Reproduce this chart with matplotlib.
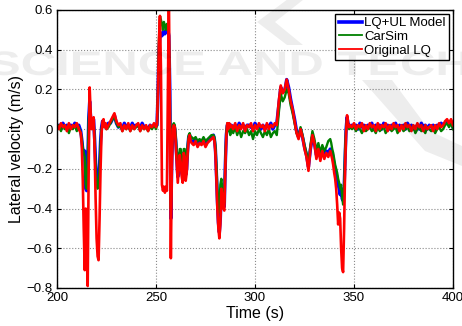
import numpy as np
import matplotlib
matplotlib.use("Agg")
import matplotlib.pyplot as plt
from matplotlib.textpath import TextPath
from matplotlib.patches import PathPatch, Polygon
from matplotlib.font_manager import FontProperties
from matplotlib.transforms import Affine2D

plt.rcParams['font.family'] = ['Liberation Sans', 'DejaVu Sans']

# time axis (s): finer steps around the manoeuvres
t = np.concatenate([
    np.arange(200, 212.5, 1),      # 200..212
    np.arange(212.5, 225.25, 0.5), # 212.5..225
    np.arange(226, 250.5, 1),      # 226..250
    np.arange(250.5, 268.25, 0.5), # 250.5..268
    np.arange(269, 279.5, 1),      # 269..279
    np.arange(279.5, 288.25, 0.5), # 279.5..288
    np.arange(289, 338.5, 1),      # 289..338
    np.arange(338.5, 348.25, 0.5), # 338.5..348
    np.arange(349, 400.5, 1),      # 349..400
])

# lateral velocity (m/s)
ul_model = [
    .01, .02, .00, .03, .01, .02, .00, .02, .01, .03, .00, .02, -.01,
    -.05, -.1, -.12, -.11, -.3, -.31, -.2, .05, .14, .06, .01, .04, .05,
    -.05, -.17, -.25, -.27, -.27, -.18, -.06, .01, .04, .03, .02, .01, .02,
    .03, .03, .05, .07, .03, .01, .02, .0, .03, .01, .02, .0, .03, .01,
    .02, .02, .0, .03, .01, .01, .0, .02, .01, .02, .02,
    .02, .18, .4, .47, .48, .47, .49, .48, .48, .5, .49, .5, .47, .2, -.45,
    -.15, .0, .02, .0, -.06, -.15, -.24, -.18, -.12, -.15, -.22, -.24, -.12,
    -.13, -.23, -.2, -.1, -.04, -.03, -.05, -.06,
    -.07, -.05, -.08, -.06, -.07, -.05, -.08, -.06, -.05, -.04, -.03,
    -.05, -.1, -.22, -.36, -.47, -.52, -.45, -.3, -.32, -.38, -.39, -.18,
    -.03, .02, .01, .02, .0, .02,
    .01, .02, .0, .03, .01, .02, .0, .02, .02, .01, .0, .03, .01, .02, .0,
    .02, .0, .02, .01, .03, .0, .02, .03,
    .12, .21, .19, .19, .25, .21, .15, .1, .05, -.01, -.04, .0, -.04, -.09,
    -.13, -.19, -.1, -.04, -.07, -.13, -.1, -.14, -.1, -.13, -.11, -.12, -.1,
    -.11, -.12, -.15, -.18, -.2, -.22, -.26, -.28, -.3, -.33, -.3, -.35, -.36,
    -.3, -.15, .0, .06, .03, .02, .01,
    .02, .01, .02, .0, .03, .01, .02, .0, .02, .01, .03, .0, .02, .01, .02,
    .0, .03, .01, .02, .0, .02, .01, .03, .0, .02, .01, .02, .0, .03, .01,
    .02, .0, .01, .02, .0, .03, .01, .02, .0, .02, .01, .02, .0, .02, .01,
    .03, .02, .03, .04, .02, .04, .01,
]
carsim = [
    .0, .02, -.01, .02, .0, .01, -.02, .01, .0, .02, -.01, .01, -.02,
    -.05, -.09, -.12, -.14, -.28, -.3, -.18, .05, .13, .07, .02, .03, .04,
    -.06, -.18, -.27, -.3, -.29, -.2, -.07, .0, .03, .04, .01, .02, .0,
    .01, .03, .05, .06, .03, .01, .02, -.01, .01, .0, .02, -.01, .01, .0,
    .01, .02, -.01, .01, .0, .01, -.01, .01, .0, .02, .0,
    .02, .2, .45, .57, .55, .53, .5, .54, .52, .5, .53, .51, .47, .2, -.4,
    -.12, .02, .03, .02, -.04, -.12, -.2, -.15, -.1, -.1, -.18, -.2, -.1,
    -.1, -.2, -.18, -.08, -.03, -.02, -.04, -.04,
    -.05, -.04, -.06, -.05, -.06, -.04, -.06, -.05, -.04, -.03, -.03,
    -.04, -.08, -.18, -.3, -.38, -.42, -.28, -.25, -.3, -.35, -.37, -.16,
    -.02, .03, -.01, .0, -.03, .0,
    -.02, .01, -.03, .0, -.04, -.01, -.02, .0, -.03, -.01, -.05, -.01, -.03,
    .0, -.02, -.04, -.01, -.03, .0, -.04, -.02, -.01, -.03,
    .08, .18, .14, .16, .2, .18, .12, .08, .03, -.02, -.04, .01, -.03, -.08,
    -.12, -.18, -.08, -.01, -.05, -.11, -.07, -.12, -.08, -.11, -.09, -.06, -.05,
    -.07, -.1, -.12, -.15, -.18, -.2, -.22, -.25, -.27, -.3, -.28, -.34, -.38,
    -.3, -.1, .0, .05, .02, .0, .01,
    .0, .01, -.01, .01, .0, -.02, .01, -.01, .0, .01, -.01, .0, -.02, .01,
    -.01, .0, .01, -.02, .0, .01, -.01, .0, .01, -.02, .0, .01, -.01, .0,
    .01, -.01, .0, .01, -.02, .0, .01, -.01, .0, -.02, .01, .0, -.01, .01,
    -.02, .0, .01, -.01, .0, .02, .03, .01, .03, .0,
]
original_lq = [
    .02, .00, .03, .01, .02, -.01, .03, .00, .02, .01, .03, .00, -.02,
    -.08, -.25, -.5, -.71, -.4, -.62, -.79, -.2, .21, .08, .0, .03, .06,
    -.1, -.35, -.55, -.64, -.66, -.45, -.2, -.02, .04, .05, .01, .03, .0,
    .02, .04, .06, .08, .04, .02, .03, -.01, .02, .0, .03, -.01, .02, .0,
    .02, .03, -.01, .02, .0, .02, -.01, .02, .01, .03, .01,
    .03, .2, .45, .57, .3, -.28, -.31, -.29, -.32, -.29, -.31, .2, .68, .1,
    -.65, -.2, .0, .02, .01, -.08, -.18, -.27, -.2, -.13, -.17, -.24, -.27,
    -.12, -.14, -.26, -.22, -.12, -.05, -.03, -.06, -.07,
    -.08, -.06, -.09, -.07, -.08, -.06, -.09, -.07, -.06, -.05, -.04,
    -.06, -.12, -.25, -.4, -.5, -.55, -.48, -.3, -.33, -.4, -.41, -.2,
    -.04, .03, .0, .03, .01, .02,
    .0, .03, -.01, .02, .0, .03, -.01, .02, .01, .03, -.01, .02, .0, .03,
    .01, .02, -.01, .03, .0, .02, .01, .03, .02,
    .14, .22, .18, .2, .25, .2, .14, .1, .04, -.02, -.05, .0, -.04, -.1,
    -.14, -.21, -.1, -.03, -.07, -.15, -.1, -.16, -.11, -.15, -.12, -.14, -.11,
    -.13, -.15, -.18, -.22, -.25, -.3, -.38, -.48, -.42, -.45, -.6, -.7, -.72,
    -.5, -.2, -.02, .07, .03, .01, .02,
    .01, .03, .0, .02, .01, .03, -.01, .02, .0, .03, .01, .02, -.01, .03,
    .0, .02, .01, .03, -.01, .02, .0, .03, .01, .02, -.01, .02, .0, .03,
    .01, .02, -.01, .02, .0, .03, .01, .02, -.01, .02, .0, .01, .02, -.01,
    .02, .0, .03, .01, .02, .04, .05, .03, .05, .02,
]

xticks = [200, 250, 300, 350, 400]
yticks = [-0.8, -0.6, -0.4, -0.2, 0, 0.2, 0.4, 0.6]
ylabels = ['\u22120.8', '\u22120.6', '\u22120.4', '\u22120.2', '0', '0.2', '0.4', '0.6']

fig = plt.figure(figsize=(4.62, 3.26), dpi=100)
ax = fig.add_axes([57 / 462, 38 / 326, 396 / 462, 278 / 326])

ax.plot(t, ul_model, color='#0000ff', lw=2.4, label='LQ+UL Model')
ax.plot(t, carsim, color='#008000', lw=1.7, label='CarSim')
ax.plot(t, original_lq, color='#ff0000', lw=1.9, label='Original LQ')

ax.set_xlim(200, 400)
ax.set_ylim(-0.8, 0.6)
ax.set_xticks(xticks)
ax.set_yticks(yticks)
ax.set_yticklabels(ylabels)
ax.tick_params(direction='in', top=True, right=True, labelsize=9.5, length=3, pad=3)
ax.grid(True, linestyle=':', color='#8a8a8a', linewidth=0.8)
for s in ax.spines.values():
    s.set_linewidth(1.0)
ax.set_xlabel('Time (s)', fontsize=11.5, labelpad=1)
ax.set_ylabel('Lateral velocity (m/s)', fontsize=11.5, labelpad=2)

leg = ax.legend(loc='upper right', fontsize=9.5, fancybox=False, framealpha=1,
                edgecolor='black', borderaxespad=0.3, handlelength=1.8,
                handletextpad=0.15, labelspacing=0.1, borderpad=0.25)
leg.get_frame().set_linewidth(1.0)
for h, w in zip(leg.get_lines(), [2.6, 1.3, 1.3]):
    h.set_linewidth(w)

# faint publisher watermark over the whole figure
wm_prop = FontProperties(family='Liberation Sans', weight='bold')
wm_path = TextPath((0, 0), 'SCIENCE AND TECHNOLOGY', size=1, prop=wm_prop)
wm = PathPatch(wm_path, transform=Affine2D().scale(49, 34).translate(-12, 251),
               facecolor='black', edgecolor='none', alpha=0.07, zorder=10)
fig.add_artist(wm)
chevron = Polygon([(257, 304), (292, 330), (308, 330), (275, 304), (303, 281), (287, 281)],
                  closed=True, transform=None, facecolor='black', edgecolor='none', alpha=0.07)
fig.add_artist(chevron)
swoosh = Polygon([(362, 246), (392, 246), (430, 195), (462, 180), (462, 160), (425, 175)],
                 closed=True, transform=None, facecolor='black', edgecolor='none', alpha=0.07)
fig.add_artist(swoosh)

fig.savefig('out.png', dpi=100)
